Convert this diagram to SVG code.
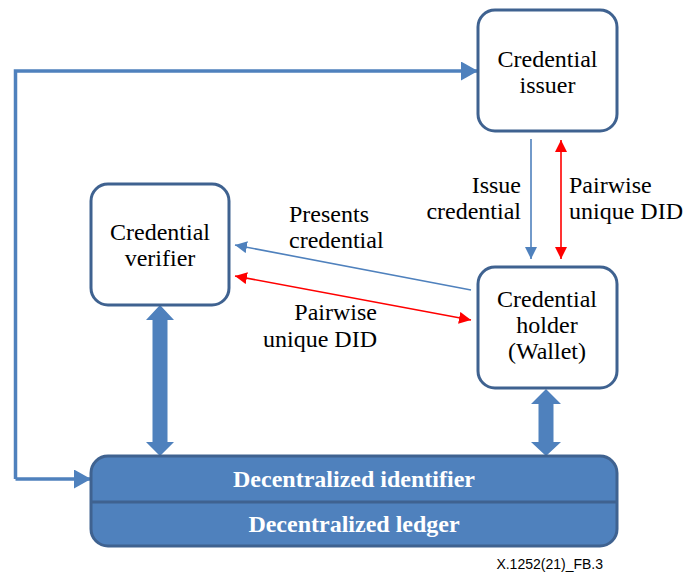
<svg xmlns="http://www.w3.org/2000/svg" width="684" height="574" viewBox="0 0 684 574">
  <style>
    .box { fill: #ffffff; stroke: #3f6290; stroke-width: 3; }
    .label { font-family: "Liberation Serif", "Noto Serif", "DejaVu Serif", FreeSerif, "Nimbus Roman", "Nimbus Roman No9 L", Times, serif; font-size: 24px; fill: #000000; }
    .mid { text-anchor: middle; }
    .end { text-anchor: end; }
    .ledger-text { font-family: "Liberation Serif", "Noto Serif", "DejaVu Serif", FreeSerif, "Nimbus Roman", Times, serif; font-size: 24px; font-weight: bold; fill: #ffffff; text-anchor: middle; }
    .thin-blue { stroke: #4f81bd; stroke-width: 1.6; fill: none; }
    .thin-red { stroke: #ff0000; stroke-width: 1.6; fill: none; }
    .loop { stroke: #4f81bd; stroke-width: 3.5; fill: none; }
    .thick { fill: #4f81bd; }
  </style>
  <defs>
    <marker id="headBlue" markerUnits="userSpaceOnUse" viewBox="0 0 12 12" refX="12" refY="6" markerWidth="12" markerHeight="12" orient="auto">
      <path d="M0,0 L12,6 L0,12 Z" fill="#4f81bd"/>
    </marker>
    <marker id="headRedEnd" markerUnits="userSpaceOnUse" viewBox="0 0 12 12" refX="12" refY="6" markerWidth="12" markerHeight="12" orient="auto">
      <path d="M0,0 L12,6 L0,12 Z" fill="#ff0000"/>
    </marker>
    <marker id="headRedStart" markerUnits="userSpaceOnUse" viewBox="0 0 12 12" refX="0" refY="6" markerWidth="12" markerHeight="12" orient="auto">
      <path d="M12,0 L0,6 L12,12 Z" fill="#ff0000"/>
    </marker>
    <marker id="headLoop" markerUnits="userSpaceOnUse" viewBox="0 0 17 19" refX="17" refY="9.5" markerWidth="17" markerHeight="19" orient="auto">
      <path d="M0,0 L17,9.5 L0,19 Z" fill="#4f81bd"/>
    </marker>
  </defs>

  <!-- connectors -->
  <g id="connectors">
    <!-- ledger loop to issuer and back to the ledger -->
    <path class="loop" d="M462,71 H15.5 V479" />
    <line class="loop" x1="462" y1="71" x2="478" y2="71" marker-end="url(#headLoop)" />
    <line class="loop" x1="15.5" y1="479" x2="91" y2="479" marker-end="url(#headLoop)" />

    <!-- issuer to holder -->
    <line class="thin-blue" x1="531" y1="139" x2="531" y2="259" marker-end="url(#headBlue)" />
    <line class="thin-red" x1="561" y1="140" x2="561" y2="259" marker-start="url(#headRedStart)" marker-end="url(#headRedEnd)" />

    <!-- holder to verifier -->
    <line class="thin-blue" x1="471" y1="290" x2="235" y2="245" marker-end="url(#headBlue)" />
    <line class="thin-red" x1="235" y1="276" x2="471" y2="320" marker-start="url(#headRedStart)" marker-end="url(#headRedEnd)" />

    <!-- verifier to ledger -->
    <polygon class="thick" points="160,305 174,320 167.5,320 167.5,442 174,442 160,456 146,442 152.5,442 152.5,320 146,320" />
    <!-- holder to ledger -->
    <polygon class="thick" points="546,389 561,404 553.5,404 553.5,442 561,442 546,456 531,442 538.5,442 538.5,404 531,404" />
  </g>

  <!-- edge labels -->
  <g id="edge-labels">
    <text class="label end" x="521" y="193">Issue</text>
    <text class="label end" x="521" y="219">credential</text>
    <text class="label" x="569" y="193">Pairwise</text>
    <text class="label" x="569" y="219">unique DID</text>
    <text class="label" x="289" y="222">Presents</text>
    <text class="label" x="289" y="248">credential</text>
    <text class="label end" x="377" y="320">Pairwise</text>
    <text class="label end" x="377" y="347">unique DID</text>
  </g>

  <g id="issuer">
    <rect class="box" x="478" y="10" width="139" height="121" rx="17" />
    <text class="label mid" x="547.5" y="67">Credential</text>
    <text class="label mid" x="547.5" y="93">issuer</text>
  </g>

  <g id="verifier">
    <rect class="box" x="91" y="184" width="138" height="121" rx="17" />
    <text class="label mid" x="160" y="240">Credential</text>
    <text class="label mid" x="160" y="266">verifier</text>
  </g>

  <g id="holder">
    <rect class="box" x="478" y="267" width="139" height="121" rx="17" />
    <text class="label mid" x="547" y="307">Credential</text>
    <text class="label mid" x="547" y="333">holder</text>
    <text class="label mid" x="547" y="359">(Wallet)</text>
  </g>

  <g id="ledger">
    <rect x="91" y="456" width="526" height="90" rx="17" fill="#4f81bd" stroke="#3f6290" stroke-width="3" />
    <line x1="92" y1="502" x2="616" y2="502" stroke="#3f6290" stroke-width="3" />
    <text class="ledger-text" x="354" y="487">Decentralized identifier</text>
    <text class="ledger-text" x="354" y="532">Decentralized ledger</text>
  </g>

  <text x="603" y="569" text-anchor="end" font-family="'Liberation Sans', Arial, sans-serif" font-size="14" fill="#000000">X.1252(21)_FB.3</text>
</svg>
